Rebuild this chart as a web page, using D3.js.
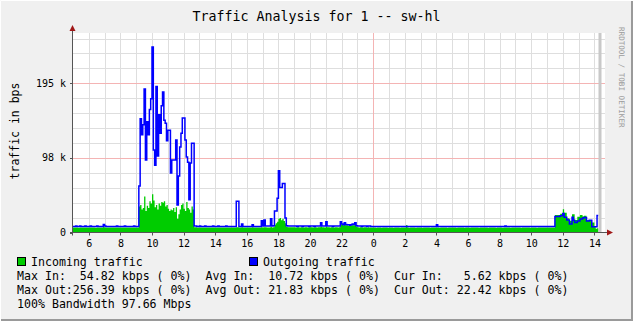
<!DOCTYPE html>
<html>
<head>
<meta charset="utf-8">
<script src="https://cdn.jsdelivr.net/npm/d3@7/dist/d3.min.js"></script>
<style>
html,body{margin:0;padding:0;background:#f0f0f0;}
svg{display:block;}
text{font-family:"DejaVu Sans Mono",monospace;white-space:pre;}
</style>
</head>
<body>
<svg id="chart" width="633" height="321"></svg>
<script>
// ---- data (values in k bits per second), 5-minute samples starting at 05:00 ----
const startHour = 5;
const stepMinutes = 5;
const outTraffic = [
  8,8,8.5,8,8,8.5,8,8,8,8.5,8,8,
  8,8.5,8,8,8,8,8.5,8,8,8,8,10.5,
  8.5,8,8,8,8,8,8,8,8,8.5,8,8,
  8,8,8,8.5,8,8,8,8,8,8,8.5,8,
  8,8,61,149,128,141,188,95,145,128,161,175,
  243,108,88,191,100,154,130,166,184,147,143,120,
  134,134,78,95,95,95,121,36,74,112,130,150,
  150,121,99,92,43,91,117,117,8.5,8.5,8,8,
  8.5,8,8,8,8.5,8,8,8,8,8,8.5,8,
  8,8,8.5,8,8,8,8,8,8.5,8,8,8,
  8,8,8,8,41,41,8,8,11,8,8,8,
  8,8,8,8,10,8,8,8,8,8,8,15.5,
  8.5,16.4,8.5,8.5,8.5,8.5,18,8.5,9,28,28,45,
  81,59,59,64,64,19,9,8.5,8.5,8.5,8.5,8.5,
  8.5,8.5,8,8.5,8.5,8.5,8,8.5,8.5,8.5,8.5,8,
  8.5,8.5,8.5,8,8.5,8.5,8.5,8.5,12.8,8.5,8.5,8.5,
  14,8.5,8.5,8.5,8.5,8,8.5,8.5,8.5,8.5,8.5,14,
  11,10,12.8,10.5,10,10,9.5,10,11,10.5,12.8,9,
  8.5,8.5,8.5,8,8.5,8.5,8.5,8,8.5,8.5,8,8,
  8,8,7.8,8,8,8,8,7.8,8,8,8,8,
  8,8,8,8,7.8,8,8,8,8,8,7.8,8,
  8,8,8,8,8,8,8,8,8,8,8,8,
  8,7.8,8,8,8,8,8,8,8,7.8,8,8,
  10,8,8,8,8,8,8,8,8,8,8,8,
  8,8,8,7.8,8,8,8,8,8,8,8,8,
  8,8,8,8,8,8,7.8,8,8,8,8,8,
  8,8,8,8,8,8,8,8,8,8,8,8,
  8,8,8,8,8.5,8,8,8,8,8,8,8,
  8,8,8,8,8,8,8,8,8,8,8,8,
  8,8,8,8,8,8,8,8,8,8,8,8,
  8,8,8,8,8,8,21,21,21,21,22,22,
  25,20,20,16.4,16.4,11,11,20,16,13,13,15,
  15,17.7,17.7,19,19.8,19.8,15,15,16,16,7.6,7.6,
  7.6,7.6,22.4
];
const inTraffic = [
  6.5,6.4,6.6,6.5,6.3,6.5,6.6,6.4,6.5,6.5,6.4,6.6,
  6.5,6.6,6.4,6.5,6.5,6.3,6.6,6.5,6.4,6.5,6.5,7.5,
  6.6,6.5,6.4,6.5,6.5,6.6,6.4,6.5,6.5,6.6,6.5,6.4,
  6.5,6.5,6.6,6.4,6.5,6.5,6.5,6.6,6.4,6.5,6.6,6.5,
  6.5,6.5,34,36,30,32,47,28,35,32,41,38,
  50,42,33,36,30,38,35,40,39,41,34,36,
  31,28,30,29,32,27,33,18,24,30,36,38,
  31,28,40,32,30,26,34,30,6.8,6.8,6.5,6.5,
  6.5,6.6,6.4,6.5,6.5,6.6,6.5,6.4,6.5,6.5,6.6,6.5,
  6.5,6.4,6.6,6.5,6.5,6.5,6.4,6.6,6.5,6.5,6.4,6.5,
  6.5,6.5,6.5,6.5,7,7,6.5,6.5,7,6.5,6.5,6.5,
  6.5,6.5,6.5,6.5,7,6.5,6.5,6.5,6.5,6.5,6.5,7,
  6.5,7,6.8,6.5,6.5,6.5,7.5,6.5,7,10,12,14,
  18,19,16,18,15,12,7.5,7,6.8,6.8,6.8,6.8,
  6.8,6.7,6.8,6.8,6.6,6.8,6.8,6.7,6.8,6.8,6.6,6.8,
  6.8,6.8,6.7,6.8,6.8,6.6,6.8,6.8,8,6.8,6.8,6.7,
  8,6.8,6.8,6.7,6.8,6.8,6.6,6.8,6.8,6.7,6.8,12.8,
  10,9.5,11,9.5,9.4,9,8.8,9.2,9.5,9.4,11,8,
  6.8,6.7,6.8,6.8,6.6,6.8,6.8,6.7,6.8,6.6,6.5,6.5,
  6.4,6.5,6.3,6.4,6.5,6.4,6.3,6.4,6.5,6.4,6.4,6.3,
  6.4,6.5,6.4,6.3,6.4,6.4,6.5,6.4,6.3,6.4,6.4,6.4,
  6.4,9.8,6.4,6.3,6.4,6.5,6.4,6.4,6.3,6.4,6.4,6.5,
  6.4,6.3,6.4,6.4,6.5,6.4,6.4,6.3,6.4,6.4,6.5,6.4,
  6.4,6.4,6.3,6.4,6.5,6.4,6.4,6.4,6.3,6.4,6.4,6.4,
  6.5,6.4,6.4,6.3,6.4,6.4,6.5,6.4,6.4,6.3,6.4,6.4,
  6.4,6.3,6.4,6.4,6.5,6.4,6.4,6.4,6.3,6.4,6.5,6.4,
  6.4,6.4,6.4,6.3,6.4,6.5,6.4,6.4,6.4,6.3,6.4,6.4,
  6.5,6.4,6.3,6.4,6.4,6.4,6.5,6.4,6.3,6.4,6.4,6.4,
  6.4,6.4,6.5,6.4,6.3,6.4,6.4,6.4,6.5,6.4,6.4,6.3,
  6.4,6.5,6.4,6.4,6.3,6.4,6.4,6.5,6.4,6.4,6.4,6.4,
  6.4,6.4,6.5,6.4,6.4,6.4,23,23,23,23,24.5,24.5,
  30.4,26,26,18.6,18.6,15.5,15.5,24,24,16.4,16.4,20.7,
  20.7,23,23,21,22,22,16,16,15.5,15.5,13,13,
  7.6,5,5.6
];
const yMajorTicks = [0, 97.66, 195.31];
const yTickLabels = ["0", "98 k", "195 k"];
const xLabelHours = [6,8,10,12,14,16,18,20,22,24,26,28,30,32,34,36,38];
const legendLines = [
  "Max In:  54.82 kbps ( 0%)  Avg In:  10.72 kbps ( 0%)  Cur In:   5.62 kbps ( 0%)",
  "Max Out:256.39 kbps ( 0%)  Avg Out: 21.83 kbps ( 0%)  Cur Out: 22.42 kbps ( 0%)",
  "100% Bandwidth 97.66 Mbps"
];
const seriesNames = ["Incoming traffic", "Outgoing traffic"];
const seriesColors = ["#00cc00", "#0000ff"];

// ---- layout ----
const W = 633, H = 321;
const L = 73, R = 605, T = 33, B = 232.5;
const svg = d3.select("#chart");

// frame
svg.append("rect").attr("x",0).attr("y",0).attr("width",W).attr("height",H).attr("fill","#f0f0f0");
svg.append("path").attr("d",`M0.5,${H}V0.5H${W}`).attr("stroke","#ffffff").attr("stroke-width",1).attr("fill","none");
svg.append("path").attr("d",`M1,${H-1}H${W-1}V1`).attr("stroke","#9a9a9a").attr("stroke-width",2).attr("fill","none");

const x = d3.scaleLinear().domain([5, 38.67]).range([L, R]);
const yMax = (B - T) / 74.6 * 97.66;
const y = d3.scaleLinear().domain([0, yMax]).range([B, T]);

// plot background
svg.append("rect").attr("x",L).attr("y",T).attr("width",R-L).attr("height",B-T).attr("fill","#ffffff");

// grid minor
const g = svg.append("g");
const minorY = d3.range(19.532, yMax, 19.532).filter(v => Math.abs(v/97.66 - Math.round(v/97.66)) > 0.01);
g.selectAll(".hy").data(minorY).enter().append("line")
  .attr("x1",L).attr("x2",R).attr("y1",d=>Math.round(y(d))+0.5).attr("y2",d=>Math.round(y(d))+0.5)
  .attr("stroke","#dedede").attr("stroke-width",1);
const hourLines = d3.range(6, 39).filter(h => h !== 24);
g.selectAll(".vx").data(hourLines).enter().append("line")
  .attr("x1",d=>Math.round(x(d))+0.5).attr("x2",d=>Math.round(x(d))+0.5).attr("y1",T).attr("y2",B)
  .attr("stroke","#dedede").attr("stroke-width",1);
// major
g.selectAll(".my").data(yMajorTicks.slice(1)).enter().append("line")
  .attr("x1",L).attr("x2",R).attr("y1",d=>Math.round(y(d))+0.5).attr("y2",d=>Math.round(y(d))+0.5)
  .attr("stroke","#f4b4b4").attr("stroke-width",1);
g.append("line").attr("x1",Math.round(x(24))+0.5).attr("x2",Math.round(x(24))+0.5).attr("y1",T).attr("y2",B)
  .attr("stroke","#f4b4b4").attr("stroke-width",1);

// data
const stepH = stepMinutes/60;
const t = i => startHour + i*stepH;
const inPts = inTraffic.map((v,i)=>[t(i),v]); inPts.push([t(inTraffic.length), inTraffic[inTraffic.length-1]]);
const outPts = outTraffic.map((v,i)=>[t(i),v]); outPts.push([t(outTraffic.length), outTraffic[outTraffic.length-1]]);

const area = d3.area().x(d=>x(d[0])).y0(y(0)).y1(d=>y(d[1])).curve(d3.curveStepAfter);
svg.append("path").attr("d",area(inPts)).attr("fill",seriesColors[0]);
const line = d3.line().x(d=>x(d[0])).y(d=>y(d[1])).curve(d3.curveStepAfter);
svg.append("path").attr("d",line(outPts)).attr("fill","none").attr("stroke",seriesColors[1]).attr("stroke-width",1.5);

// "now" bar
svg.append("rect").attr("x",598.5).attr("y",T).attr("width",3).attr("height",B-T).attr("fill","#c8c8c8");

// axes
svg.append("line").attr("x1",L-0.5).attr("x2",L-0.5).attr("y1",T-4).attr("y2",B+3).attr("stroke","#555").attr("stroke-width",1);
svg.append("line").attr("x1",L-3).attr("x2",R+2).attr("y1",B).attr("y2",B).attr("stroke","#555").attr("stroke-width",1);
svg.append("path").attr("d",`M${L-3.5},${T-2}L${L-0.5},${T-8}L${L+2.5},${T-2}Z`).attr("fill","#a01818");
svg.append("path").attr("d",`M${R+2},${B-3}L${R+8},${B}L${R+2},${B+3}Z`).attr("fill","#a01818");

// y labels & ticks
svg.selectAll(".yl").data(yMajorTicks).enter().append("text")
  .attr("x",66).attr("y",d=>y(d)+3.5).attr("text-anchor","end")
  .attr("font-size","10px").attr("fill","#000").text((d,i)=>yTickLabels[i]);
svg.selectAll(".yt").data(yMajorTicks).enter().append("line")
  .attr("x1",L-3).attr("x2",L).attr("y1",d=>Math.round(y(d))+0.5).attr("y2",d=>Math.round(y(d))+0.5)
  .attr("stroke","#555");
// x labels & ticks
svg.selectAll(".xl").data(xLabelHours).enter().append("text")
  .attr("x",d=>x(d)+0.5).attr("y",247).attr("text-anchor","middle")
  .attr("font-size","10px").attr("fill","#000").text(d=>String(d%24));
svg.selectAll(".xt").data(xLabelHours).enter().append("line")
  .attr("x1",d=>Math.round(x(d))+0.5).attr("x2",d=>Math.round(x(d))+0.5).attr("y1",B).attr("y2",B+3)
  .attr("stroke","#555");

// title
svg.append("text").attr("x",316.5).attr("y",21).attr("text-anchor","middle")
  .attr("font-size","13.3px").attr("fill","#000").text("Traffic Analysis for 1 -- sw-hl");
// y title
svg.append("text").attr("transform","translate(19,131) rotate(-90)").attr("text-anchor","middle")
  .attr("font-size","11.5px").attr("fill","#000").text("traffic in bps");
// watermark
svg.append("text").attr("transform","translate(618.5,27) rotate(90)").attr("text-anchor","start")
  .attr("font-size","7.6px").attr("fill","#9c9c9c").text("RRDTOOL / TOBI OETIKER");

// legend
const legX = [17, 249];
seriesNames.forEach((n,i)=>{
  svg.append("rect").attr("x",legX[i]+0.5).attr("y",257.5).attr("width",8).attr("height",8)
    .attr("fill",seriesColors[i]).attr("stroke","#000").attr("stroke-width",1);
  svg.append("text").attr("x",legX[i]+14).attr("y",265.5).attr("font-size","11.6px").attr("fill","#000").text(n);
});
legendLines.forEach((s,i)=>{
  svg.append("text").attr("x",17).attr("y",279.5+i*14).attr("font-size","11.6px").attr("fill","#000").text(s);
});
</script>
</body>
</html>
